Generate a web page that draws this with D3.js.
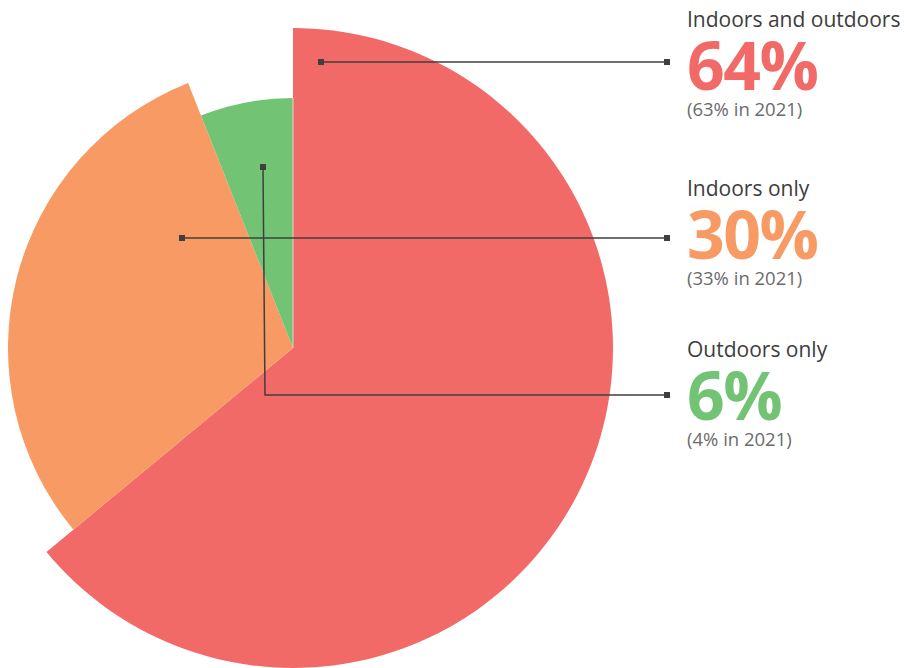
<!DOCTYPE html>
<html>
<head>
<meta charset="utf-8">
<script src="https://cdn.jsdelivr.net/npm/d3@7"></script>
<style>
  body { margin: 0; background: #fff; }
  text { font-family: "Open Sans", sans-serif; }
</style>
</head>
<body>
<script>
// pie with a different radius per slice, callouts on the right

var categories = ["Indoors and outdoors", "Indoors only", "Outdoors only"];
var values = [64, 30, 6];
var prior = [63, 33, 4];
var priorYear = "2021";

var colors = ["#f26a68", "#f79a63", "#73c374"];

var width = 904, height = 668;
var cx = 293, cy = 348;
var radii = [320, 285, 250];

// where each leader line starts inside its slice, and the row it ends on
var anchors = [[28, -286], [-111, -110], [-30, -181]];
var rowY = [62, 238, 395];
var labelX = 687, lineEnd = 667;

var svg = d3.select("body").append("svg")
    .attr("width", width)
    .attr("height", height);

var pie = d3.pie().sort(null).value(function(d) { return d; });
var arcs = pie(values);

var g = svg.append("g")
    .attr("transform", "translate(" + cx + "," + cy + ")");

g.selectAll("path")
  .data(arcs)
  .enter().append("path")
    .attr("d", function(d, i) {
      return d3.arc().innerRadius(0).outerRadius(radii[i])(d);
    })
    .attr("fill", function(d, i) { return colors[i]; });

// white seam where the red slice starts
g.append("line")
    .attr("x1", 0).attr("y1", 0)
    .attr("x2", 0).attr("y2", -radii[2])
    .attr("stroke", "#fff")
    .attr("stroke-opacity", 0.6)
    .attr("stroke-width", 1);

// leader lines
var lineColor = "#3f3f3f";
values.forEach(function(v, i) {
  var ax = cx + anchors[i][0], ay = cy + anchors[i][1];
  var pts;
  if (Math.abs(ay - rowY[i]) < 1) {
    pts = [[ax, ay], [lineEnd, rowY[i]]];
  } else {
    pts = [[ax, ay], [ax + 2, rowY[i]], [lineEnd, rowY[i]]];
  }
  svg.append("path")
      .attr("d", d3.line()(pts))
      .attr("fill", "none")
      .attr("stroke", lineColor)
      .attr("stroke-width", 1.5);
  [[ax, ay], [lineEnd, rowY[i]]].forEach(function(p) {
    svg.append("rect")
        .attr("x", p[0] - 3).attr("y", p[1] - 3)
        .attr("width", 6).attr("height", 6)
        .attr("fill", lineColor);
  });
});

// labels
var titleY = [27, 196, 357];
var labels = svg.selectAll("g.label")
  .data(categories)
  .enter().append("g")
    .attr("class", "label")
    .attr("transform", function(d, i) {
      return "translate(" + labelX + "," + titleY[i] + ")";
    });

labels.append("text")
    .attr("font-size", 21)
    .attr("fill", "#3d3d3d")
    .text(function(d) { return d; });

labels.append("text")
    .attr("y", 63)
    .attr("font-size", 66)
    .attr("font-weight", 700)
    .attr("letter-spacing", -1.5)
    .attr("fill", function(d, i) { return colors[i]; })
    .text(function(d, i) { return values[i] + "%"; });

labels.append("text")
    .attr("y", 89)
    .attr("font-size", 18.5)
    .attr("fill", "#6b6b6b")
    .text(function(d, i) { return "(" + prior[i] + "% in " + priorYear + ")"; });
</script>
</body>
</html>
